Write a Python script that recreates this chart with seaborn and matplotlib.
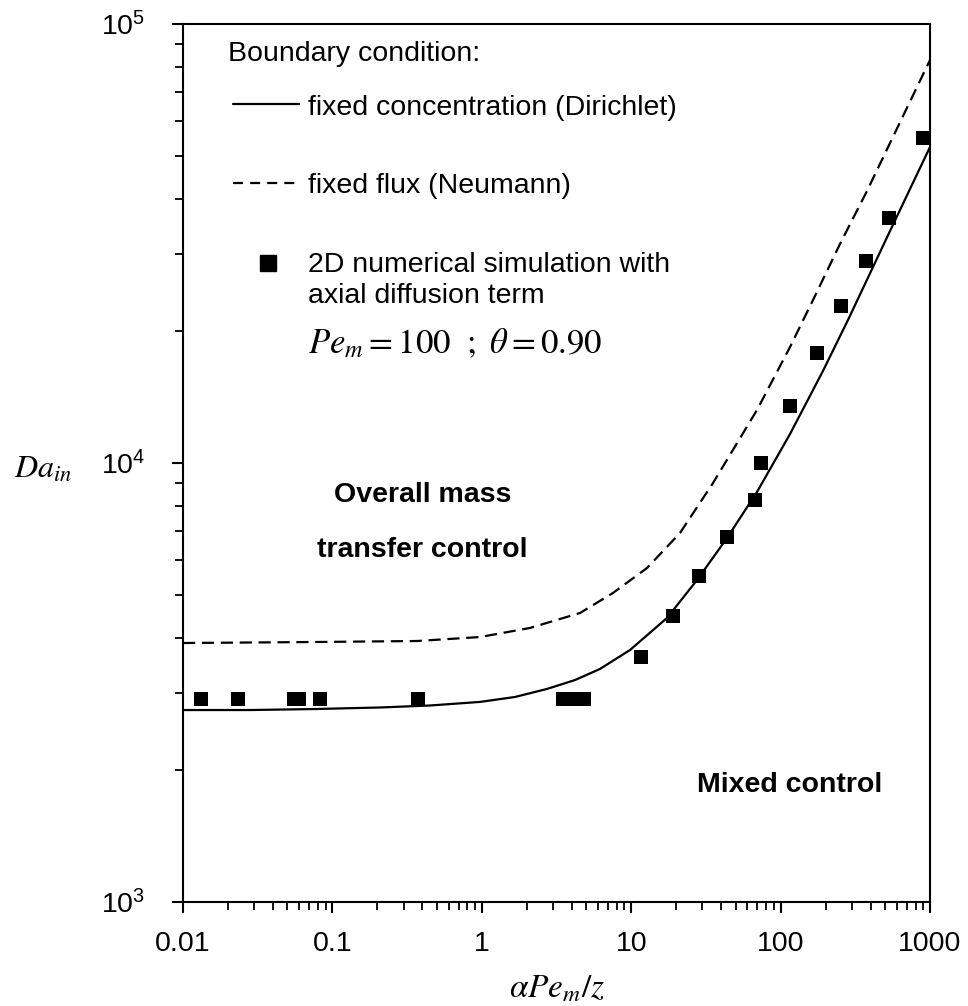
import numpy as np
import matplotlib
matplotlib.use("Agg")
import matplotlib.pyplot as plt
import matplotlib.ticker as mticker
import seaborn as sns

# ---- data ----
# Dirichlet (fixed concentration) curve
x_dir = [0.01, 0.0281, 0.0788, 0.2083, 0.450, 0.973, 1.668, 2.73, 4.21, 6.18,
         9.82, 17.36, 27.6, 43.8, 69.5, 115.6, 192, 282.5, 540, 1000]
da_dir = [2737, 2737, 2752, 2774, 2803, 2856, 2931, 3057, 3204, 3395,
          3750, 4436, 5414, 6748, 8590, 11640, 16200, 21170, 33770, 52460]
# Neumann (fixed flux) curve
x_neu = [0.01, 0.0788, 0.368, 0.973, 2.10, 4.54, 7.55, 12.76, 21.2, 35.3,
         69.5, 115.6, 164.8, 249.7, 378.7, 540, 1000]
da_neu = [3890, 3911, 3931, 4014, 4209, 4553, 5057, 5766, 6925, 9004,
          13205, 18370, 23510, 31540, 41650, 53570, 82790]
# 2D numerical simulation points
x_sim = [0.0131, 0.0234, 0.055, 0.060, 0.0826, 0.376, 3.5, 3.8, 4.1, 4.4, 4.8,
         11.6, 19.0, 28.4, 43.8, 67.1, 73.9, 115.6, 174.5, 252.6, 371, 534, 902]
da_sim = [2900, 2900, 2900, 2900, 2900, 2900, 2900, 2900, 2900, 2900, 2900,
          3620, 4480, 5530, 6770, 8240, 10020, 13490, 17780, 22790, 28900, 36100, 54900]

x_ticks = [0.01, 0.1, 1, 10, 100, 1000]
x_tick_labels = ["0.01", "0.1", "1", "10", "100", "1000"]
y_ticks = [1e3, 1e4, 1e5]
y_tick_labels = [r"$\mathregular{10^{3}}$", r"$\mathregular{10^{4}}$", r"$\mathregular{10^{5}}$"]

sns.set_theme(style="ticks")
plt.rcParams["font.family"] = ["Liberation Sans", "DejaVu Sans"]
plt.rcParams["mathtext.fontset"] = "stix"
plt.rcParams["axes.linewidth"] = 1.5

W, H = 968, 1006
fig = plt.figure(figsize=(W / 100, H / 100), dpi=100)
L, R, T, B = 183, 930, 24, 902
ax = fig.add_axes([L / W, 1 - B / H, (R - L) / W, (B - T) / H])
ax.set_xscale("log")
ax.set_yscale("log")

sns.lineplot(x=x_dir, y=da_dir, ax=ax, color="black", linewidth=1.6,
             sort=False, estimator=None)
sns.lineplot(x=x_neu, y=da_neu, ax=ax, color="black", linewidth=1.6,
             sort=False, estimator=None)
ax.lines[-1].set_dashes((5.5, 3))
for ln in ax.lines:
    ln.set_solid_joinstyle("round")
    ln.set_dash_joinstyle("round")
sns.scatterplot(x=x_sim, y=da_sim, ax=ax, marker="s", s=92, color="black",
                linewidth=0, zorder=3)

ax.set_xlim(0.01, 1000)
ax.set_ylim(1e3, 1e5)
ax.set_xticks(x_ticks)
ax.set_xticklabels(x_tick_labels)
ax.set_yticks(y_ticks)
ax.set_yticklabels(y_tick_labels)
ax.xaxis.set_minor_locator(mticker.LogLocator(base=10, subs=np.arange(2, 10), numticks=20))
ax.yaxis.set_minor_locator(mticker.LogLocator(base=10, subs=np.arange(2, 10), numticks=20))
ax.xaxis.set_minor_formatter(mticker.NullFormatter())
ax.yaxis.set_minor_formatter(mticker.NullFormatter())
ax.tick_params(axis="both", which="major", direction="out", length=8, width=1.5,
               color="black", labelsize=20.5, labelcolor="black")
ax.tick_params(axis="both", which="minor", direction="out", length=6, width=1.3,
               color="black")
ax.tick_params(axis="x", which="major", pad=13)
ax.tick_params(axis="y", which="major", pad=19)
ax.tick_params(top=False, right=False, which="both")
for sp in ax.spines.values():
    sp.set_color("black")
    sp.set_linewidth(1.5)
ax.grid(False)

ax.set_xlabel(r"$\alpha Pe_m/z$", fontsize=24, labelpad=12, color="black")
ax.set_ylabel("")
ax.text(-0.1874, 0.492, r"$Da_{in}$", transform=ax.transAxes, fontsize=23,
        ha="center", va="center", color="black")

def axx(px):
    return (px - L) / (R - L)

def axy(py):
    return (B - py) / (B - T)

tr = ax.transAxes
fs = 20.5
ax.text(axx(228), axy(61), "Boundary condition:", transform=tr, fontsize=fs,
        ha="left", va="baseline", color="black")
ax.plot([axx(233), axx(299)], [axy(104.3)] * 2, transform=tr, color="black", lw=1.6)
ax.text(axx(308), axy(115), "fixed concentration (Dirichlet)", transform=tr,
        fontsize=fs, ha="left", va="baseline", color="black")
ax.plot([axx(233), axx(299)], [axy(183.3)] * 2, transform=tr, color="black", lw=1.6,
        dashes=(4.5, 3.2))
ax.text(axx(308), axy(193.3), "fixed flux (Neumann)", transform=tr,
        fontsize=fs, ha="left", va="baseline", color="black")
ax.plot([axx(268.3)], [axy(263.3)], transform=tr, marker="s", markersize=12,
        color="black", linestyle="none")
ax.text(axx(308), axy(271.7), "2D numerical simulation with", transform=tr,
        fontsize=fs, ha="left", va="baseline", color="black")
ax.text(axx(308), axy(303.3), "axial diffusion term", transform=tr,
        fontsize=fs, ha="left", va="baseline", color="black")
ax.text(axx(308), axy(353.3), r"$Pe_m = 100\ \ ;\ \theta = 0.90$", transform=tr,
        fontsize=25, ha="left", va="baseline", color="black")

ax.text(axx(423), axy(502), "Overall mass", transform=tr, fontsize=fs,
        fontweight="bold", ha="center", va="baseline", color="black")
ax.text(axx(422), axy(557), "transfer control", transform=tr, fontsize=fs,
        fontweight="bold", ha="center", va="baseline", color="black")
ax.text(axx(697), axy(792), "Mixed control", transform=tr, fontsize=fs,
        fontweight="bold", ha="left", va="baseline", color="black")

fig.savefig("out.png", dpi=100, facecolor="white")
